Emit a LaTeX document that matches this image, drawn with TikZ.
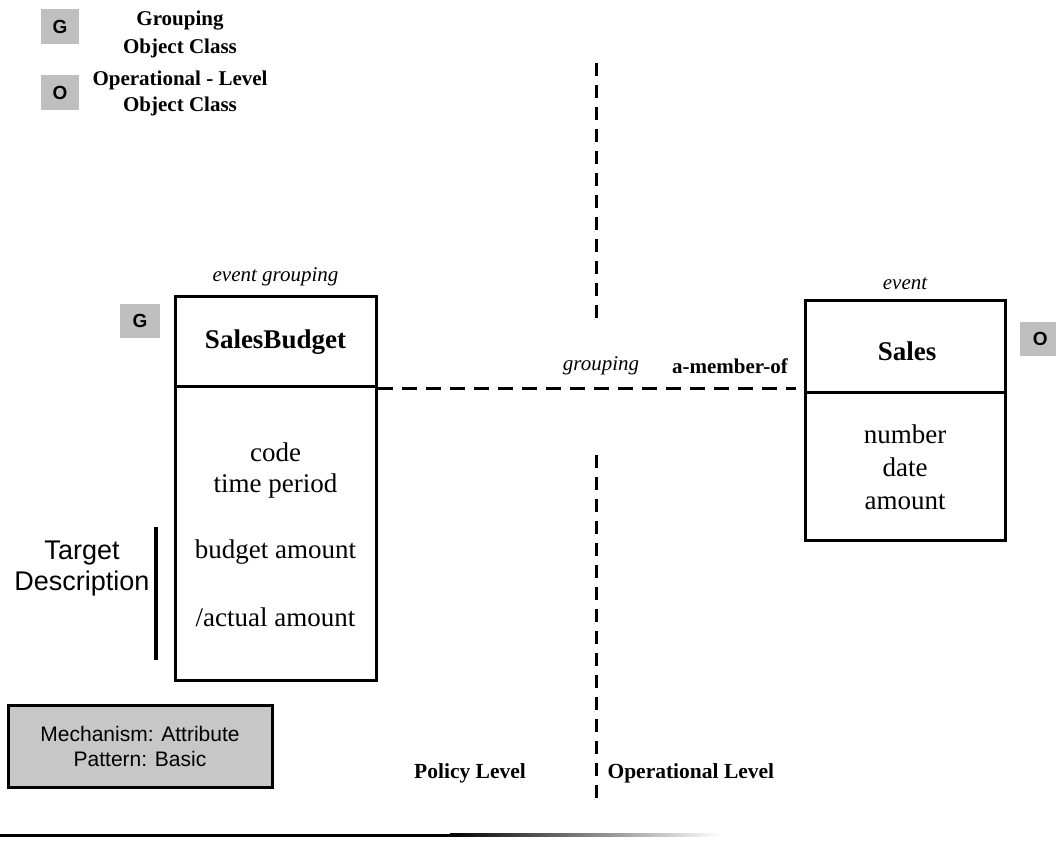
\documentclass[tikz,border=0pt]{standalone}
\usepackage{fontspec}
\setmainfont{Liberation Serif}
\setsansfont{Liberation Sans}
\begin{document}
\begin{tikzpicture}[x=1pt,y=-1pt,
  classbox/.style={draw,line width=3pt,minimum width=201pt,inner sep=0pt},
  tag/.style={fill=black!25,minimum width=38pt,minimum height=35pt,inner sep=0pt,
    font=\sffamily\bfseries\fontsize{19}{19}\selectfont},
  boldlabel/.style={font=\bfseries\fontsize{21}{26}\selectfont,align=center},
  itlabel/.style={font=\itshape\fontsize{21}{23}\selectfont},
  attr/.style={font=\fontsize{27}{33}\selectfont},
  title/.style={font=\bfseries\fontsize{27}{29}\selectfont},
  levellabel/.style={font=\bfseries\fontsize{21.5}{24}\selectfont},
  levelline/.style={line width=3pt,dash pattern=on 13pt off 9pt},
  linkline/.style={line width=3pt,dash pattern=on 15pt off 9pt}]
\useasboundingbox (0,0) rectangle (1056,840);

% legend
\node[tag] (legG) at (60,27) {G};
\node[tag] (legO) at (60,93) {O};
\node[boldlabel,font=\bfseries\fontsize{21}{28}\selectfont] (legGtxt) at (180,34) {Grouping\\Object Class};
\node[boldlabel,font=\bfseries\fontsize{21}{26}\selectfont] (legOtxt) at (180,93) {Operational - Level\\Object Class};

% policy-level class
\node[classbox,minimum height=90pt] (sbtop) at (275.5,341) {};
\node[classbox,minimum height=294pt] (sbbot) at (275.5,533) {};
\node[title] (sbname) at (275.5,342) {SalesBudget};
\node[itlabel] (sbstereo) at (275.5,277) {event grouping};
\node[tag,minimum width=40pt,minimum height=34pt] (sbtag) at (140,321) {G};
\node[attr] (a1) at (275.5,452) {code};
\node[attr] (a2) at (275.5,486) {time period};
\node[attr] (a3) at (275.5,552) {budget amount};
\node[attr] (a4) at (275.5,617) {/actual amount};

% target description bracket
\coordinate (tdtop) at (156,527);
\coordinate (tdbot) at (156,660);
\draw[line width=4pt] (tdtop) -- (tdbot);
\node[font=\sffamily\fontsize{27}{31}\selectfont,align=center] (td) at (82,569) {Target\\Description};

% operational-level class
\node[classbox,minimum width=200pt,minimum height=92pt] (stop) at (905,346) {};
\node[classbox,minimum width=200pt,minimum height=148pt] (sbot) at (905,466) {};
\node[title] (sname) at (907,351) {Sales};
\node[itlabel] (sstereo) at (905,284) {event};
\node[tag,minimum width=40pt,minimum height=34pt,anchor=west] (stag) at (1020,339) {O};
\node[attr,align=center] (sattr) at (905,467) {number\\date\\amount};

% grouping link
\coordinate (linky) at (0,388);
\draw[linkline,shorten >=8pt] (sbtop.east |- linky) -- (stop.west |- linky);
\node[itlabel] (grp) at (601,366) {grouping};
\node[boldlabel] (mem) at (730,366) {a-member-of};

% level divider
\coordinate (d1) at (596,63);
\coordinate (d2) at (596,326);
\coordinate (d3) at (596,455);
\coordinate (d4) at (596,800);
\draw[levelline] (d1) -- (d2);
\draw[levelline] (d3) -- (d4);
\node[levellabel] (pol) at (470,773) {Policy Level};
\node[levellabel,anchor=west] (ops) at (604,773) {Operational Level};

% mechanism / pattern box
\node[draw,line width=3pt,fill=black!22,minimum width=264pt,minimum height=82pt,
  font=\sffamily\fontsize{21}{25}\selectfont,align=center] (mech) at (140,746)
  {Mechanism: Attribute\\Pattern: Basic};

% rule at the foot
\coordinate (r0) at (0,835);
\coordinate (r1) at (450,835);
\draw[line width=3pt] (r0) -- (r1);
\shade[left color=black,right color=white] (450,833.5) rectangle (720,836.5);
\end{tikzpicture}
\end{document}
